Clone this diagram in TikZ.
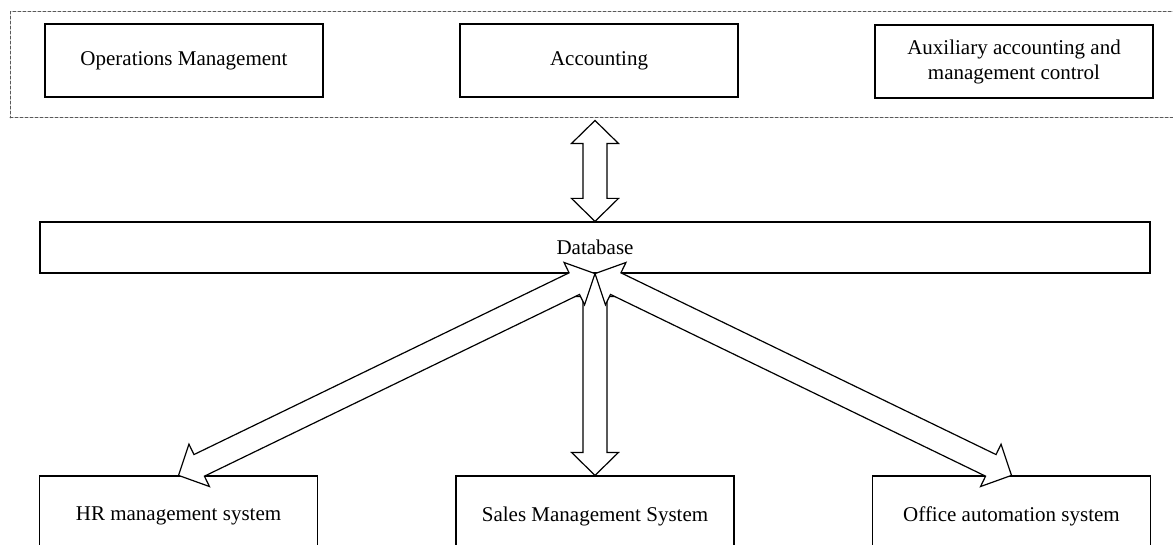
\documentclass[tikz,border=0pt]{standalone}
\usepackage{fontspec}
\setmainfont{Liberation Serif}
\usepackage{tikz}
\usetikzlibrary{calc}

% hollow block arrow with a head at both ends
\newcommand{\hollowarrow}[2]{%
  \draw[arr] (#1) -- ($(#1)!11.5pt!(#2)!11.75pt!90:(#2)$) -- ($(#1)!11.5pt!(#2)!6pt!90:(#2)$)
    -- ($(#2)!11.5pt!(#1)!6pt!-90:(#1)$) -- ($(#2)!11.5pt!(#1)!11.75pt!-90:(#1)$) -- (#2)
    -- ($(#2)!11.5pt!(#1)!11.75pt!90:(#1)$) -- ($(#2)!11.5pt!(#1)!6pt!90:(#1)$)
    -- ($(#1)!11.5pt!(#2)!6pt!-90:(#2)$) -- ($(#1)!11.5pt!(#2)!11.75pt!-90:(#2)$) -- cycle;}

\begin{document}
\begin{tikzpicture}[line cap=round,line join=round,x=0.5pt,y=-0.5pt,
    box/.style={draw=black,line width=0.6pt,line cap=rect,line join=miter,minimum width=139pt,minimum height=36.5pt,inner sep=0pt,align=center,font=\fontsize{10.5}{12.5}\selectfont},
    arr/.style={draw=black,fill=white,line width=0.6pt,line join=miter}]
      \useasboundingbox (0,0) rectangle (1173,545);
      \clip (0,0) rectangle (1173,545);
      % dashed group round the three modules
      \node[draw=black!65,dash pattern=on 1.5pt off 1pt,line width=0.5pt,minimum width=585pt,minimum height=53pt,inner sep=0pt] (group) at (595,65) {};
      \node[box] (ops) at (184,60.5) {Operations Management};
      \node[box] (acc) at (599,60.5) {Accounting};
      \node[box] (aux) at (1014,61.5) {Auxiliary accounting and\\management control};
      \node[box,minimum width=555pt,minimum height=25.5pt] (db) at (595,247.5) {Database};
      \node[box,minimum height=40pt] (hr) at (178.5,516) {HR management system};
      \node[box,minimum height=40pt] (sales) at (595,516) {Sales Management System};
      \node[box,minimum height=40pt] (oa) at (1011.5,516) {Office automation system};
      % arrows
      \coordinate (up) at ($(group.south -| db.north)+(0,2)$);
      \hollowarrow{up}{db.north}
      \hollowarrow{db.south}{sales.north}
      \hollowarrow{db.south}{hr.north}
      \hollowarrow{db.south}{oa.north}
\end{tikzpicture}
\end{document}
